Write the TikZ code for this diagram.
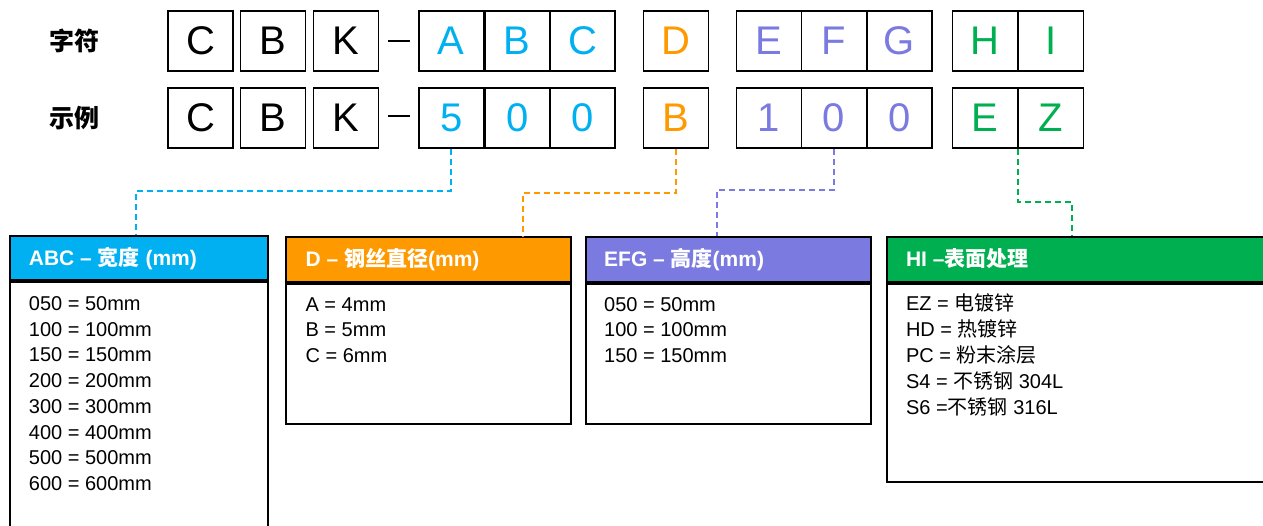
\documentclass[tikz,border=0pt]{standalone}
\usepackage{fontspec}
\setmainfont{Liberation Sans}
\newfontfamily\cjk{Noto Sans CJK SC}
\definecolor{cBlue}{RGB}{0,176,240}
\definecolor{cOrange}{RGB}{255,153,0}
\definecolor{cPurple}{RGB}{122,122,224}
\definecolor{cGreen}{RGB}{0,176,80}
\tikzset{
  cell/.style={draw=black, line width=1.6pt, minimum width=65pt, minimum height=60pt, inner sep=0pt, font=\fontsize{40}{40}\selectfont},
  rowlabel/.style={inner sep=0pt, font=\fontsize{25}{25}\selectfont\cjk\bfseries},
  hdr/.style={draw=black, line width=2pt, minimum height=44.5pt, inner sep=0pt, anchor=north west},
  bodybox/.style={draw=black, line width=2pt, inner sep=0pt, anchor=north west},
  htext/.style={inner sep=0pt, anchor=base west, text=white, font=\fontsize{21}{21}\selectfont\bfseries},
  btext/.style={inner sep=0pt, anchor=base west, font=\fontsize{20}{20}\selectfont},
  link/.style={line width=1.8pt, dash pattern=on 6pt off 4pt},
}
\begin{document}
\begin{tikzpicture}[x=1pt,y=-1pt]
\clip (0,0) rectangle (1263,525);
\fill[white] (0,0) rectangle (1263,525);
% row labels
\node[rowlabel] (lab1) at (74.5,41) {字符};
\node[rowlabel] (lab2) at (74.5,118) {示例};
% row 1
\node[cell] (r1c) at (200.5,41) {C};
\node[cell] (r1b) at (273,41) {B};
\node[cell] (r1k) at (346,41) {K};
\draw[line width=1.6pt] (388,41) -- (410,41);
\node[cell, text=cBlue] (r1a1) at (451.2,41) {A};
\node[cell, text=cBlue] (r1a2) at (517.2,41) {B};
\node[cell, text=cBlue] (r1a3) at (582.5,41) {C};
\node[cell, text=cOrange] (r1d) at (676,41) {D};
\node[cell, text=cPurple] (r1e) at (768.8,41) {E};
\node[cell, text=cPurple] (r1f) at (834,41) {F};
\node[cell, text=cPurple] (r1g) at (899.2,41) {G};
\node[cell, text=cGreen] (r1h) at (985,41) {H};
\node[cell, text=cGreen] (r1i) at (1051,41) {I};
% row 2
\node[cell] (r2c) at (200.5,118) {C};
\node[cell] (r2b) at (273,118) {B};
\node[cell] (r2k) at (346,118) {K};
\draw[line width=1.6pt] (388,116) -- (410,116);
\node[cell, text=cBlue] (r2a1) at (451.2,118) {5};
\node[cell, text=cBlue] (r2a2) at (517.2,118) {0};
\node[cell, text=cBlue] (r2a3) at (582.5,118) {0};
\node[cell, text=cOrange] (r2d) at (676,118) {B};
\node[cell, text=cPurple] (r2e) at (768.8,118) {1};
\node[cell, text=cPurple] (r2f) at (834,118) {0};
\node[cell, text=cPurple] (r2g) at (899.2,118) {0};
\node[cell, text=cGreen] (r2h) at (985,118) {E};
\node[cell, text=cGreen] (r2i) at (1051,118) {Z};
% header boxes
\node[hdr, fill=cBlue, minimum width=258pt] (hA) at (8.5,234.5) {};
\node[bodybox, minimum width=258pt, minimum height=300pt] (bA) at (hA.south west) {};
\node[hdr, fill=cOrange, minimum width=285pt] (hD) at (285,236) {};
\node[bodybox, minimum width=285pt, minimum height=140pt] (bD) at (hD.south west) {};
\node[hdr, fill=cPurple, minimum width=285pt] (hE) at (584.5,236) {};
\node[bodybox, minimum width=285pt, minimum height=140pt] (bE) at (hE.south west) {};
\node[hdr, fill=cGreen, minimum width=400pt] (hH) at (886,236) {};
\node[bodybox, minimum width=400pt, minimum height=198.5pt] (bH) at (hH.south west) {};
% header texts
\node[htext] (tA) at (28.7,265.5) {ABC – {\cjk 宽度} (mm)};
\node[htext] (tD) at (305.4,266) {D – {\cjk 钢丝直径}(mm)};
\node[htext] (tE) at (604,266) {EFG – {\cjk 高度}(mm)};
\node[htext] (tH) at (905.8,266) {HI –{\cjk 表面处理}};
% body texts
\foreach [count=\i] \t in {050 = 50mm,100 = 100mm,150 = 150mm,200 = 200mm,300 = 300mm,400 = 400mm,500 = 500mm,600 = 600mm}
  \node[btext] (la\i) at (28.7,{310.5+25.7*(\i-1)}) {\t};
\foreach [count=\i] \t in {A = 4mm,B = 5mm,C = 6mm}
  \node[btext] (ld\i) at (305.4,{311.2+25.7*(\i-1)}) {\t};
\foreach [count=\i] \t in {050 = 50mm,100 = 100mm,150 = 150mm}
  \node[btext] (le\i) at (604,{311.2+25.7*(\i-1)}) {\t};
\foreach [count=\i] \t in {{EZ = {\cjk 电镀锌}},{HD = {\cjk 热镀锌}},{PC = {\cjk 粉末涂层}},{S4 = {\cjk 不锈钢} 304L},{S6 ={\cjk 不锈钢} 316L}}
  \node[btext] (lh\i) at (905.8,{310.5+25.9*(\i-1)}) {\t};
% connectors
\coordinate (jA) at (136,191);
\coordinate (jD) at (523,193);
\coordinate (jE) at (717,190);
\coordinate (jH) at (1072,202);
\draw[link, cBlue] (r2a1.south) |- (jA) -- (jA |- hA.north);
\draw[link, cOrange] (r2d.south) |- (jD) -- (jD |- hD.north);
\draw[link, cPurple] (r2f.south) |- (jE) -- (jE |- hE.north);
\draw[link, cGreen] (r2h.south east) |- (jH) -- (jH |- hH.north);
\end{tikzpicture}
\end{document}
